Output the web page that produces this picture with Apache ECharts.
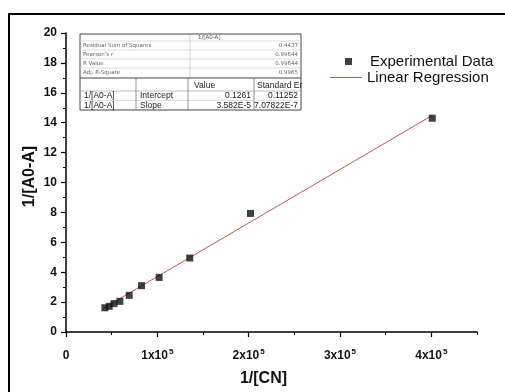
<!DOCTYPE html>
<html><head><meta charset="utf-8">
<script src="https://cdn.jsdelivr.net/npm/echarts@6/dist/echarts.min.js"></script>
<style>html,body{margin:0;padding:0;background:#fff}#c{width:505px;height:392px}</style>
</head><body><div id="c"></div>
<script>
// ---- data ----
const xValues = [42600, 47300, 52500, 59000, 69200, 82700, 102000, 135500, 202000, 401000];
const yValues = [1.62, 1.72, 1.90, 2.05, 2.45, 3.10, 3.65, 4.95, 7.93, 14.30];
const fitIntercept = 0.1261;
const fitSlope = 3.582e-5;
const fitRange = [40000, 401000];
const xMajorTicks = [0, 100000, 200000, 300000, 400000];
const xMinorTicks = [50000, 150000, 250000, 350000, 450000];
const xTickBase = ['0', '1x10', '2x10', '3x10', '4x10'];
const xTickSup = ['', '5', '5', '5', '5'];
const statLabels = ['Residual Sum of Squares', "Pearson's r", 'R Value', 'Adj. R-Square'];
const statValues = ['0.4437', '0.99644', '0.99644', '0.9965'];
const paramHeader = ['', '', 'Value', 'Standard Er'];
const paramRows = [
  ['1/[A0-A]', 'Intercept', '0.1261', '0.11252'],
  ['1/[A0-A]', 'Slope', '3.582E-5', '7.07822E-7']
];
const seriesNames = ['Experimental Data', 'Linear Regression'];

const FONT = "'Liberation Sans', Arial, sans-serif";
const LINE_COLOR = '#c05858';
const scatterData = xValues.map((x, i) => [x, yValues[i]]);
const fitData = fitRange.map(x => [x, fitIntercept + fitSlope * x]);

// ---- table graphics ----
const g = [];
const TL = 80, TR = 301, TC = 190;
const upperY = [34, 41, 50, 59, 68, 78];
const lowerY = [78, 91, 100.5, 110];
const lowerX = [80, 136, 188, 254, 301];
function line(x1, y1, x2, y2, stroke, lw) {
  g.push({type: 'line', silent: true, shape: {x1, y1, x2, y2}, style: {stroke, lineWidth: lw}});
}
function text(t, x, y, size, color, align, family) {
  g.push({type: 'text', silent: true, x, y, style: {text: t, fontSize: size, fontFamily: family || FONT, fill: color, align: align || 'left', verticalAlign: 'middle'}});
}
g.push({type: 'rect', silent: true, shape: {x: TL, y: upperY[0], width: TR - TL, height: lowerY[3] - upperY[0]}, style: {fill: '#fff', stroke: '#444', lineWidth: 1}});
for (let i = 1; i < upperY.length - 1; i++) line(TL, upperY[i], TR, upperY[i], '#c8c8c8', 0.6);
line(TC, upperY[0], TC, upperY[5], '#bbb', 0.6);
line(TL, lowerY[0], TR, lowerY[0], '#444', 1);
line(TL, lowerY[1], TR, lowerY[1], '#999', 0.6);
line(TL, lowerY[2], TR, lowerY[2], '#ccc', 0.6);
for (let i = 1; i < lowerX.length - 1; i++) line(lowerX[i], lowerY[0], lowerX[i], lowerY[3], '#777', 0.8);
text('1/[A0-A]', 198, (upperY[0] + upperY[1]) / 2, 5.5, '#555', 'left', 'DejaVu Sans');
statLabels.forEach((s, i) => {
  const cy = (upperY[i + 1] + upperY[i + 2]) / 2;
  text(s, 83, cy, 5.5, '#666', 'left', 'DejaVu Sans');
  text(statValues[i], 298, cy, 5.5, '#666', 'right', 'DejaVu Sans');
});
text(paramHeader[2], 194, (lowerY[0] + lowerY[1]) / 2 + 1, 8.5, '#222');
text(paramHeader[3], 257, (lowerY[0] + lowerY[1]) / 2 + 1, 8.5, '#222');
paramRows.forEach((r, i) => {
  const cy = (lowerY[i + 1] + lowerY[i + 2]) / 2;
  text(r[0], 84, cy, 8.5, '#222');
  text(r[1], 140, cy, 8.5, '#222');
  text(r[2], 251, cy, 8.5, '#222', 'right');
  text(r[3], 298, cy, 8.5, '#222', 'right');
});
// legend sample line for the regression entry
line(330, 77.5, 362, 77.5, LINE_COLOR, 1);
// outer frame
g.push({type: 'rect', silent: true, z: 100, shape: {x: 9, y: 14, width: 520, height: 400}, style: {fill: 'none', stroke: '#000', lineWidth: 2}});

const chart = echarts.init(document.getElementById('c'));
chart.setOption({
  animation: false,
  backgroundColor: '#fff',
  grid: {left: 66, right: 28, top: 33, bottom: 59, containLabel: false},
  legend: [
    {data: [seriesNames[0]], left: 340, top: 49, padding: 5, icon: 'rect', itemWidth: 7, itemHeight: 7, selectedMode: false,
     textStyle: {fontSize: 15, color: '#111', fontFamily: FONT, padding: [0, 0, 0, 13]}},
    {data: [{name: seriesNames[1], icon: 'none'}], left: 325, top: 65, padding: 5, itemWidth: 32, itemHeight: 14, selectedMode: false,
     textStyle: {fontSize: 15, color: '#111', fontFamily: FONT}}
  ],
  xAxis: [
    {type: 'value', min: 0, max: 450000, position: 'bottom',
     name: '1/[CN]', nameLocation: 'middle', nameGap: 39, nameMoveOverlap: false,
     nameTextStyle: {fontSize: 16, fontWeight: 'bold', color: '#111', fontFamily: FONT, padding: [0, 16, 0, 0]},
     axisLine: {show: true, lineStyle: {color: '#000', width: 1.5}},
     axisTick: {show: true, length: 5, customValues: xMajorTicks, lineStyle: {color: '#000', width: 1.2}},
     axisLabel: {customValues: xMajorTicks, margin: 16,
       formatter: v => {
         const i = xMajorTicks.indexOf(v);
         if (i < 0) return '';
         return xTickSup[i] ? '{b|' + xTickBase[i] + '}{s|' + xTickSup[i] + '}' : '{b|' + xTickBase[i] + '}';
       },
       rich: {
         b: {fontSize: 12, fontWeight: 'bold', color: '#111', fontFamily: FONT, lineHeight: 16},
         s: {fontSize: 8, fontWeight: 'bold', color: '#111', fontFamily: FONT, verticalAlign: 'top', lineHeight: 16, padding: [0, 0, 0, 1]}
       }},
     splitLine: {show: false}},
    {type: 'value', min: 0, max: 450000, position: 'bottom',
     axisLine: {show: false},
     axisTick: {show: true, length: 3, customValues: xMinorTicks, lineStyle: {color: '#000', width: 1}},
     axisLabel: {show: false}, splitLine: {show: false}}
  ],
  yAxis: {type: 'value', min: 0, max: 20, interval: 2, position: 'left',
    name: '1/[A0-A]', nameLocation: 'middle', nameGap: 28, nameMoveOverlap: false,
    nameTextStyle: {fontSize: 16, fontWeight: 'bold', color: '#111', fontFamily: FONT, padding: [0, 0, 0, 12]},
    axisLine: {show: true, lineStyle: {color: '#000', width: 1.5}},
    axisTick: {show: true, length: 5, lineStyle: {color: '#000', width: 1.2}},
    minorTick: {show: true, splitNumber: 2, length: 3, lineStyle: {color: '#000', width: 1}},
    axisLabel: {fontSize: 12, fontWeight: 'bold', color: '#111', fontFamily: FONT, margin: 9},
    splitLine: {show: false}},
  series: [
    {name: seriesNames[0], type: 'scatter', xAxisIndex: 0, symbol: 'rect', symbolSize: 7, z: 3,
     itemStyle: {color: '#111'}, data: scatterData},
    {name: seriesNames[1], type: 'line', xAxisIndex: 0, symbol: 'none', z: 2,
     lineStyle: {color: LINE_COLOR, width: 1}, itemStyle: {color: LINE_COLOR}, data: fitData}
  ],
  graphic: g
});
</script></body></html>
